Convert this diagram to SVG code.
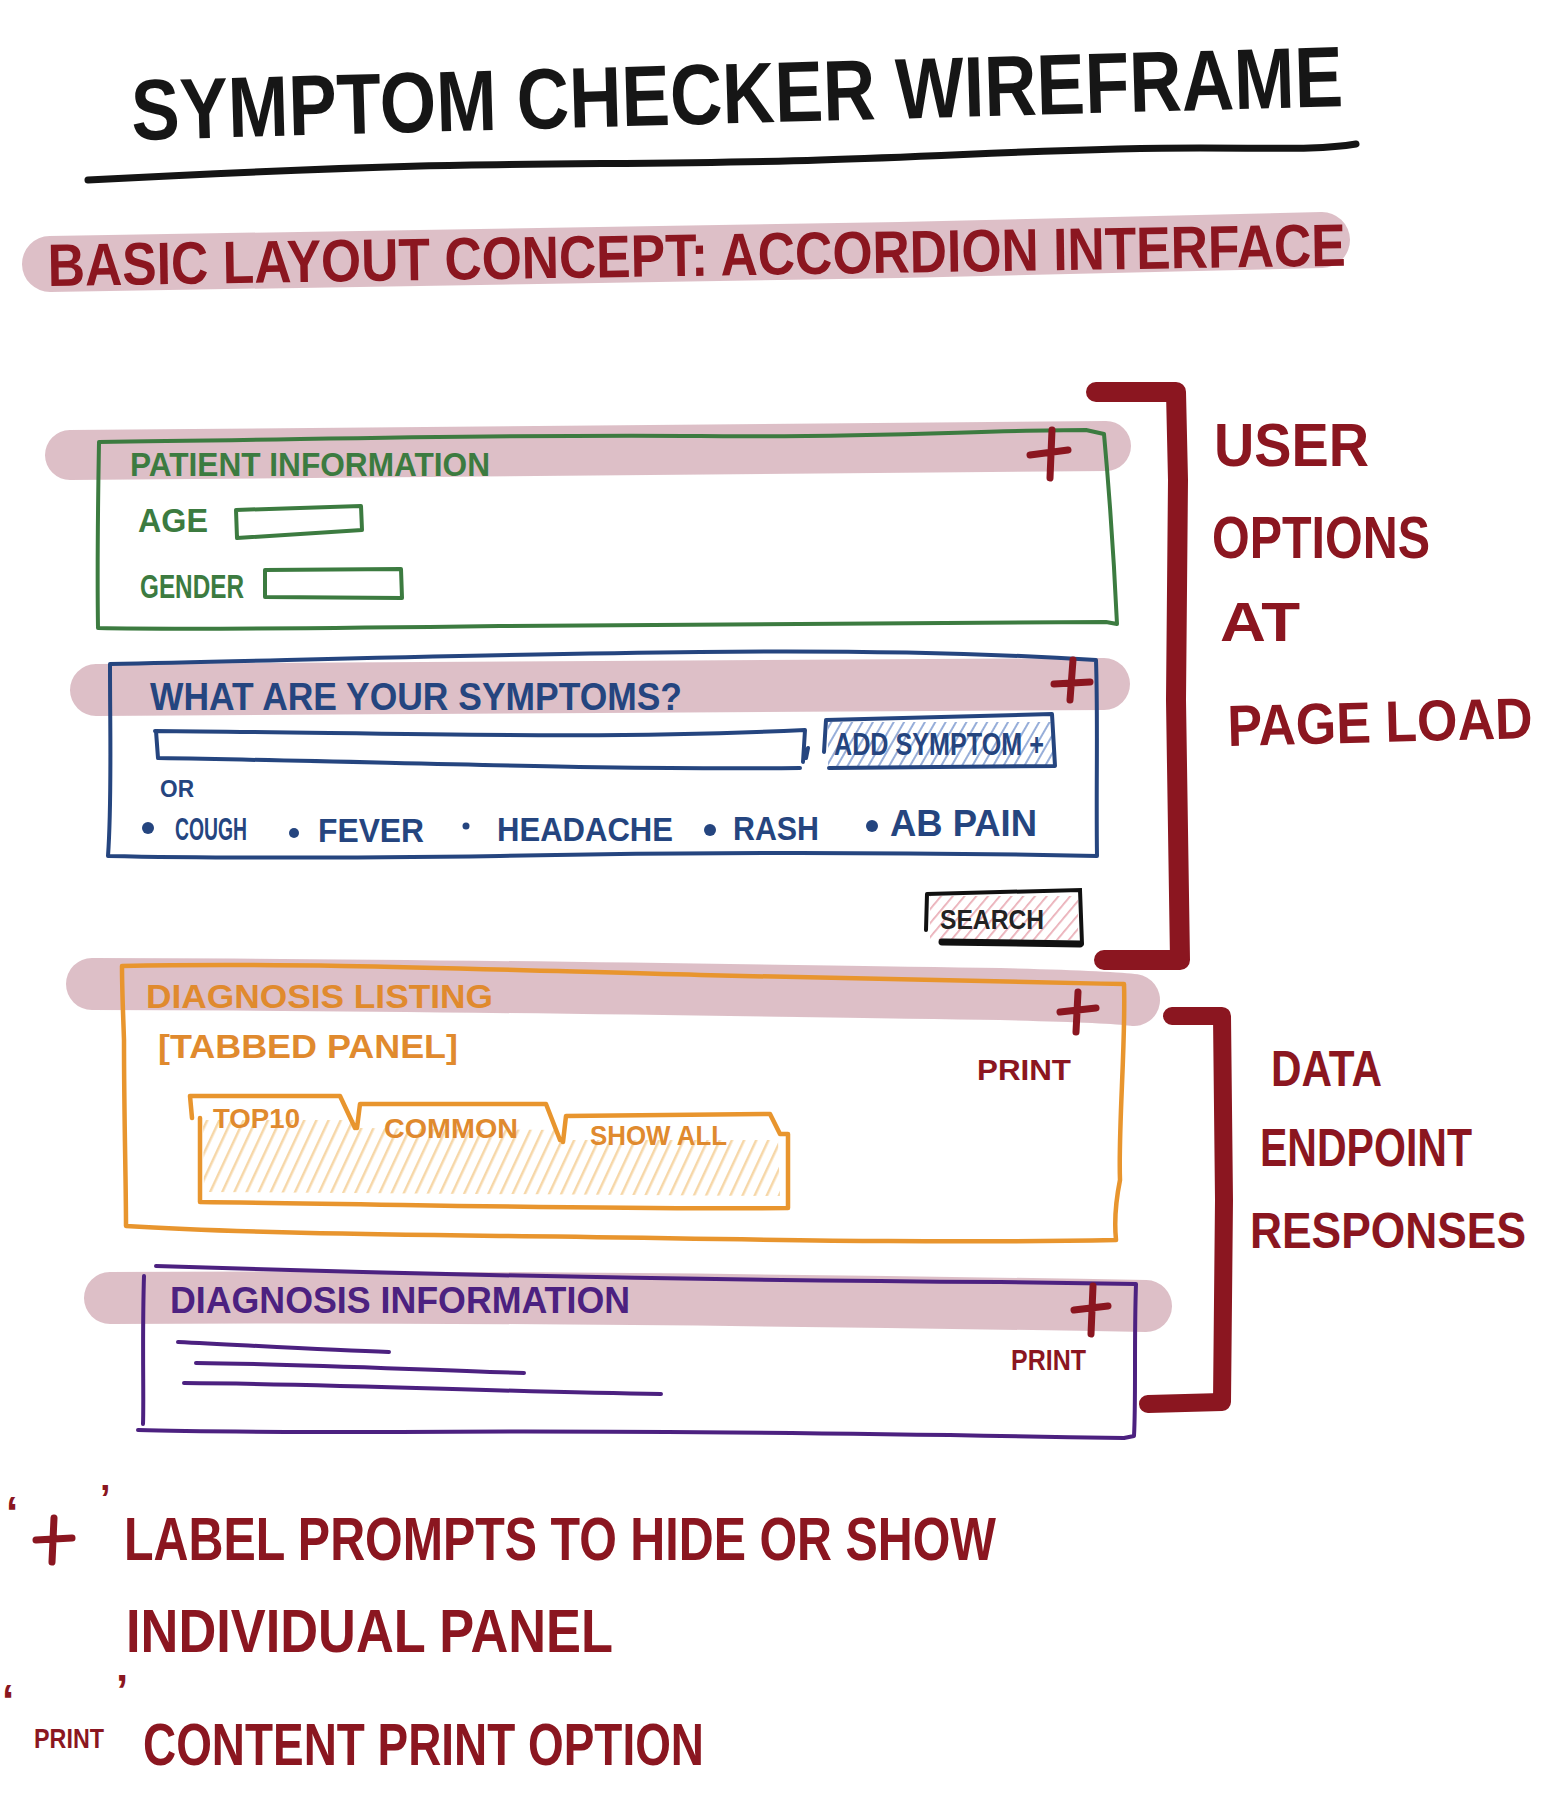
<svg xmlns="http://www.w3.org/2000/svg" width="1568" height="1796" viewBox="0 0 1568 1796">
<defs>
<style>
.t{font-family:"Liberation Sans Narrow","Liberation Sans",Arial,sans-serif;font-weight:bold}
.band{fill:none;stroke:#d9b8c1;stroke-opacity:0.9;stroke-linecap:round}
.redS{fill:none;stroke:#8b1620;stroke-linecap:round;stroke-linejoin:round}
.green{fill:none;stroke:#3c7b40;stroke-width:4;stroke-linecap:round;stroke-linejoin:round}
.blue{fill:none;stroke:#25457f;stroke-width:4;stroke-linecap:round;stroke-linejoin:round}
.orange{fill:none;stroke:#e8952e;stroke-width:4.5;stroke-linecap:round;stroke-linejoin:round}
.purple{fill:none;stroke:#4c2180;stroke-width:4;stroke-linecap:round;stroke-linejoin:round}
.plus{fill:none;stroke:#8b1620;stroke-width:7;stroke-linecap:round}
</style>
<pattern id="hatchBlue" patternUnits="userSpaceOnUse" width="9" height="9" patternTransform="rotate(30)">
<line x1="0" y1="0" x2="0" y2="9" stroke="#7d9ad0" stroke-width="4" stroke-opacity="0.8"/>
</pattern>
<pattern id="hatchPink" patternUnits="userSpaceOnUse" width="9" height="9" patternTransform="rotate(40)">
<line x1="0" y1="0" x2="0" y2="9" stroke="#e59aa5" stroke-width="3.5" stroke-opacity="0.8"/>
</pattern>
<pattern id="hatchOrange" patternUnits="userSpaceOnUse" width="11" height="11" patternTransform="rotate(25)">
<line x1="0" y1="0" x2="0" y2="11" stroke="#f3c98a" stroke-width="5" stroke-opacity="0.75"/>
</pattern>
</defs>
<rect width="1568" height="1796" fill="#ffffff"/>

<g id="title">
<text class="t" x="132" y="140" font-size="86" fill="#161616" textLength="1212" lengthAdjust="spacingAndGlyphs" transform="rotate(-1.6 132 140)">SYMPTOM  CHECKER  WIREFRAME</text>
<path d="M88,180 C200,174 280,170 420,166 C560,163 700,164 820,160 C960,156 1060,148 1200,148 C1280,148 1320,150 1356,144" fill="none" stroke="#141414" stroke-width="7" stroke-linecap="round"/>
</g>

<g id="subtitle">
<path class="band" d="M50,264 C300,262 600,256 900,250 C1100,246 1250,242 1322,240" stroke-width="56"/>
<text class="t" x="48" y="286" font-size="60" fill="#8b1620" textLength="1298" lengthAdjust="spacingAndGlyphs" transform="rotate(-0.9 48 286)">BASIC LAYOUT CONCEPT: ACCORDION INTERFACE</text>
</g>

<g id="patient-information">
<path class="band" d="M70,455 C300,452 700,450 1106,446" stroke-width="50"/>
<path class="green" d="M99,442 C300,440 500,434 700,436 C880,438 980,430 1086,430 L1104,434 C1110,500 1114,560 1117,624 L1106,622 C900,622 700,624 500,626 C350,628 200,630 98,628 C97,560 98,500 99,442 Z"/>
<text class="t" x="130" y="476" font-size="34" fill="#3c7b40" textLength="360" lengthAdjust="spacingAndGlyphs">PATIENT  INFORMATION</text>
<path class="plus" d="M1030,455 L1068,450 M1052,430 L1050,478"/>
<text class="t" x="138" y="532" font-size="34" fill="#3c7b40" textLength="70" lengthAdjust="spacingAndGlyphs">AGE</text>
<path class="green" d="M236,510 L361,506 L362,530 L237,538 Z" stroke-width="5"/>
<text class="t" x="140" y="598" font-size="34" fill="#3c7b40" textLength="104" lengthAdjust="spacingAndGlyphs">GENDER</text>
<path class="green" d="M265,570 L401,569 L402,598 L265,597 Z" stroke-width="5"/>
</g>

<g id="symptoms">
<path class="band" d="M96,690 C400,688 800,686 1104,684" stroke-width="52"/>
<path class="blue" d="M110,664 C300,660 500,654 700,652 C880,650 1000,654 1096,660 C1098,720 1096,790 1097,856 C900,852 700,852 500,856 C350,858 200,858 108,856 C112,800 110,740 110,664 Z"/>
<text class="t" x="150" y="710" font-size="38" fill="#25457f" textLength="532" lengthAdjust="spacingAndGlyphs">WHAT ARE YOUR  SYMPTOMS?</text>
<path class="plus" d="M1054,684 L1090,682 M1073,660 L1070,700"/>
<path class="blue" d="M155,731 C400,733 600,740 805,730 L803,762 M808,748 L806,758 M800,768 C600,770 400,762 158,758 L156,731" stroke-width="5"/>
<rect x="828" y="722" width="226" height="44" fill="url(#hatchBlue)"/>
<path class="blue" d="M826,720 L1052,714 L1055,766 L829,768 M826,720 L824,752" stroke-width="5"/>
<text class="t" x="834" y="755" font-size="31" fill="#25457f" textLength="210" lengthAdjust="spacingAndGlyphs">ADD SYMPTOM +</text>
<text class="t" x="160" y="797" font-size="24" fill="#25457f" textLength="34" lengthAdjust="spacingAndGlyphs">OR</text>
<circle cx="148" cy="828" r="6" fill="#25457f"/>
<text class="t" x="175" y="840" font-size="32" fill="#25457f" textLength="72" lengthAdjust="spacingAndGlyphs">COUGH</text>
<circle cx="294" cy="833" r="5" fill="#25457f"/>
<text class="t" x="318" y="842" font-size="34" fill="#25457f" textLength="106" lengthAdjust="spacingAndGlyphs">FEVER</text>
<circle cx="466" cy="826" r="3.5" fill="#25457f"/>
<text class="t" x="497" y="841" font-size="34" fill="#25457f" textLength="176" lengthAdjust="spacingAndGlyphs">HEADACHE</text>
<circle cx="710" cy="830" r="6" fill="#25457f"/>
<text class="t" x="733" y="840" font-size="34" fill="#25457f" textLength="86" lengthAdjust="spacingAndGlyphs">RASH</text>
<circle cx="872" cy="826" r="6" fill="#25457f"/>
<text class="t" x="890" y="836" font-size="36" fill="#25457f" textLength="147" lengthAdjust="spacingAndGlyphs">AB PAIN</text>
</g>

<g id="search">
<rect x="930" y="896" width="148" height="44" fill="url(#hatchPink)"/>
<path d="M927,894 L1080,890 L1082,944 M927,894 L926,930" fill="none" stroke="#111" stroke-width="4" stroke-linecap="round"/>
<path d="M942,942 L1080,944" stroke="#111" stroke-width="7" stroke-linecap="round"/>
<text class="t" x="940" y="929" font-size="27" fill="#222" textLength="104" lengthAdjust="spacingAndGlyphs">SEARCH</text>
</g>

<g id="diagnosis-listing">
<path class="band" d="M92,984 C400,984 700,990 1000,994 C1080,996 1120,998 1134,1000" stroke-width="52"/>
<path class="orange" d="M122,966 C300,962 500,970 700,975 C880,980 1000,982 1124,984 C1126,1040 1118,1130 1120,1180 C1116,1200 1114,1220 1116,1240 C900,1244 700,1238 500,1236 C350,1234 220,1232 126,1226 C126,1180 124,1120 124,1040 C123,1010 122,990 122,966 Z"/>
<text class="t" x="146" y="1008" font-size="34" fill="#e08a2e" textLength="347" lengthAdjust="spacingAndGlyphs">DIAGNOSIS  LISTING</text>
<path class="plus" d="M1060,1012 L1096,1008 M1078,992 L1076,1032"/>
<text class="t" x="158" y="1058" font-size="34" fill="#e08a2e" textLength="300" lengthAdjust="spacingAndGlyphs">[TABBED PANEL]</text>
<text class="t" x="977" y="1080" font-size="30" fill="#8b1620" textLength="94" lengthAdjust="spacingAndGlyphs">PRINT</text>
<path d="M203,1120 L355,1120 L357,1128 L560,1130 L562,1140 L778,1140 L780,1196 L204,1192 Z" fill="url(#hatchOrange)"/>
<path class="orange" d="M192,1118 L190,1096 L340,1096 L355,1128 M357,1128 L360,1104 L546,1104 L560,1140 M563,1142 L566,1116 L770,1114 L780,1134 L788,1134 L788,1208 C600,1210 400,1204 200,1202 L200,1118"/>
<text class="t" x="213" y="1128" font-size="28" fill="#e08a2e" textLength="87" lengthAdjust="spacingAndGlyphs">TOP10</text>
<text class="t" x="384" y="1138" font-size="28" fill="#e08a2e" textLength="134" lengthAdjust="spacingAndGlyphs">COMMON</text>
<text class="t" x="590" y="1145" font-size="28" fill="#e08a2e" textLength="137" lengthAdjust="spacingAndGlyphs">SHOW ALL</text>
</g>

<g id="diagnosis-information">
<path class="band" d="M110,1298 C400,1296 800,1300 1146,1306" stroke-width="52"/>
<path class="purple" d="M156,1266 C400,1274 700,1280 1000,1282 L1136,1284 C1134,1340 1136,1400 1134,1436 L1124,1438 C900,1434 600,1430 400,1432 C300,1432 200,1432 138,1430 M144,1276 C142,1340 144,1400 143,1424"/>
<text class="t" x="170" y="1313" font-size="36" fill="#4c2180" textLength="460" lengthAdjust="spacingAndGlyphs">DIAGNOSIS  INFORMATION</text>
<path class="plus" d="M1074,1310 L1108,1306 M1093,1286 L1091,1334"/>
<text class="t" x="1011" y="1370" font-size="30" fill="#8b1620" textLength="75" lengthAdjust="spacingAndGlyphs">PRINT</text>
<path class="purple" d="M178,1342 C260,1346 330,1350 389,1352"/>
<path class="purple" d="M196,1363 C300,1364 420,1370 524,1373"/>
<path class="purple" d="M184,1383 C350,1384 500,1392 661,1394"/>
</g>

<g id="connectors">
<path class="redS" stroke-width="20" d="M1096,392 L1176,392 L1178,480 L1176,700 L1180,960 L1104,960"/>
<path class="redS" stroke-width="18" d="M1172,1016 L1222,1016 L1224,1200 L1222,1402 L1148,1404"/>
</g>

<g id="user-options-note">
<text class="t" x="1214" y="466" font-size="62" fill="#8b1620" textLength="155" lengthAdjust="spacingAndGlyphs">USER</text>
<text class="t" x="1212" y="558" font-size="60" fill="#8b1620" textLength="218" lengthAdjust="spacingAndGlyphs">OPTIONS</text>
<text class="t" x="1220" y="641" font-size="56" fill="#8b1620" textLength="80" lengthAdjust="spacingAndGlyphs">AT</text>
<text class="t" x="1228" y="746" font-size="58" fill="#8b1620" textLength="305" lengthAdjust="spacingAndGlyphs" transform="rotate(-1.5 1228 746)">PAGE LOAD</text>
</g>

<g id="data-endpoint-note">
<text class="t" x="1271" y="1086" font-size="50" fill="#8b1620" textLength="111" lengthAdjust="spacingAndGlyphs">DATA</text>
<text class="t" x="1260" y="1166" font-size="54" fill="#8b1620" textLength="212" lengthAdjust="spacingAndGlyphs">ENDPOINT</text>
<text class="t" x="1250" y="1248" font-size="50" fill="#8b1620" textLength="276" lengthAdjust="spacingAndGlyphs">RESPONSES</text>
</g>

<g id="legend">
<text class="t" x="6" y="1528" font-size="44" fill="#8b1620">‘</text>
<path class="plus" d="M36,1540 L72,1538 M54,1518 L52,1562" stroke-width="6"/>
<text class="t" x="100" y="1512" font-size="38" fill="#8b1620">’</text>
<text class="t" x="124" y="1560" font-size="62" fill="#8b1620" textLength="872" lengthAdjust="spacingAndGlyphs">LABEL PROMPTS  TO  HIDE  OR  SHOW</text>
<text class="t" x="126" y="1652" font-size="62" fill="#8b1620" textLength="487" lengthAdjust="spacingAndGlyphs">INDIVIDUAL  PANEL</text>
<text class="t" x="2" y="1716" font-size="44" fill="#8b1620">‘</text>
<text class="t" x="34" y="1748" font-size="28" fill="#8b1620" textLength="70" lengthAdjust="spacingAndGlyphs">PRINT</text>
<text class="t" x="116" y="1706" font-size="44" fill="#8b1620">’</text>
<text class="t" x="143" y="1765" font-size="60" fill="#8b1620" textLength="561" lengthAdjust="spacingAndGlyphs">CONTENT  PRINT  OPTION</text>
</g>
</svg>
